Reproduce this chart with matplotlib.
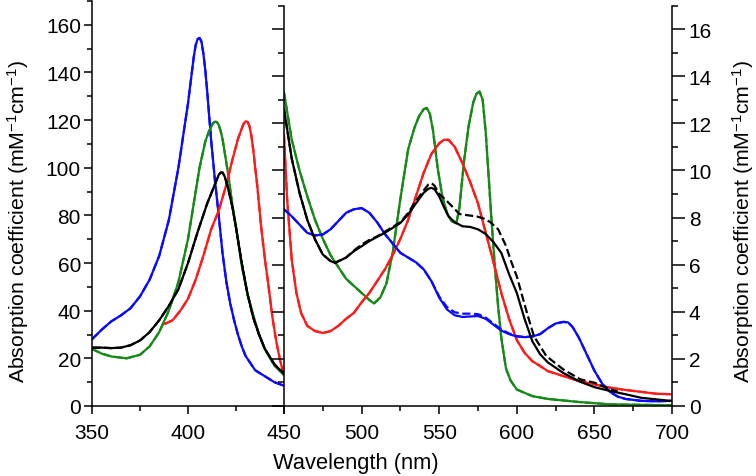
import numpy as np
import matplotlib
matplotlib.use("Agg")
import matplotlib.pyplot as plt
from matplotlib.ticker import MultipleLocator

plt.rcParams['font.family'] = ['Liberation Sans', 'DejaVu Sans']
plt.rcParams['mathtext.default'] = 'regular'

# ---- left panel (Soret region, mM-1 cm-1, left axis) ----
wl_blue_l = [350, 355, 360, 365, 370, 375, 380, 385, 390, 395, 400, 402, 403, 404, 405,
             406, 407, 408, 409, 410, 411, 412, 414, 416, 418, 420, 422, 424, 426, 428,
             430, 435, 440, 445, 450]
blue_l = [28, 32, 35.5, 38, 41, 46, 53, 63, 78, 100, 127, 140, 146.5, 151.5, 154,
          154.5, 153, 148, 141, 132, 122, 112, 95, 80, 64, 52, 43, 36, 30, 25,
          21, 15, 12.5, 10, 8.5]

wl_green_l = [350, 355, 360, 368, 375, 380, 385, 390, 395, 400, 403, 406, 409, 411, 412,
              413, 414, 415, 416, 417, 418, 419, 420, 421, 422, 423, 425, 428, 431, 434,
              437, 440, 445, 450]
green_l = [24, 22, 20.8, 20, 21.5, 25, 31, 40, 52, 70, 85, 100, 111, 115.5, 117,
           118.7, 119.3, 119.2, 118, 115.5, 112, 107, 102, 97, 91, 85, 75, 59, 47, 38,
           30, 24, 17, 13]

wl_black_l = [350, 355, 360, 365, 370, 375, 380, 385, 390, 395, 400, 405, 410, 413, 415,
              416, 417, 418, 419, 420, 421, 423, 425, 428, 431, 434, 437, 440, 445, 450]
black_l = [24.5, 24.5, 24.3, 24.5, 25.5, 27.5, 31, 36, 42, 49, 60, 73, 85, 91, 95,
           97, 98, 98, 96.5, 94, 91, 84, 75, 60, 47, 37, 30, 24, 17.5, 13.5]

wl_red_l = [388, 392, 396, 400, 404, 408, 412, 416, 420, 423, 426, 428, 429, 430, 431,
            432, 433, 434, 435, 436, 438, 440, 442, 444, 446, 448, 450]
red_l = [34.5, 36, 40, 45, 53, 63, 74, 82, 93, 103, 112, 116.5, 118.5, 119.5, 119.3,
         117.5, 113.5, 107.5, 100, 93, 76, 62, 50, 37, 27, 19, 13]

# ---- right panel (Q-band region, right axis) ----
wl_green_r = [450, 455, 460, 465, 470, 475, 480, 490, 500, 505, 508, 512, 516, 520, 525,
              530, 534, 537, 540, 542, 544, 546, 549, 552, 555, 558, 561, 563, 566, 569,
              572, 574, 576, 578, 580, 582, 584, 586, 588, 590, 593, 596, 600, 610, 620,
              640, 660, 700]
green_r = [13.3, 11.3, 10, 8.9, 7.9, 7.1, 6.4, 5.4, 4.8, 4.5, 4.35, 4.6, 5.2, 6.5, 8.8,
           10.9, 11.8, 12.3, 12.6, 12.65, 12.4, 11.7, 10.1, 8.9, 8.2, 7.85, 7.75, 8.4, 10.4, 11.9,
           12.9, 13.25, 13.35, 13.0, 11.6, 9.6, 7.6, 5.8, 4.2, 2.9, 1.6, 1.08, 0.7, 0.42, 0.3,
           0.17, 0.07, 0.03]

wl_red_r = [450, 452, 455, 458, 461, 465, 470, 475, 480, 485, 490, 495, 500, 505, 510,
            515, 520, 525, 530, 535, 540, 545, 550, 553, 556, 560, 565, 570, 575, 580,
            585, 590, 595, 600, 605, 610, 615, 620, 630, 640, 650, 660, 670, 680, 690, 700]
red_r = [11.5, 8.8, 6.2, 4.8, 3.95, 3.4, 3.18, 3.1, 3.18, 3.4, 3.7, 3.95, 4.4, 4.8, 5.3,
         5.8, 6.4, 7.1, 7.9, 8.9, 9.9, 10.7, 11.15, 11.3, 11.3, 11.0, 10.3, 9.5, 8.6, 7.35,
         6.1, 4.8, 3.7, 2.8, 2.26, 1.9, 1.7, 1.48, 1.27, 1.06, 0.92, 0.78, 0.68, 0.6, 0.52, 0.5]

wl_blue_r = [450, 455, 460, 465, 470, 475, 480, 485, 490, 495, 500, 505, 510, 515, 520,
             525, 530, 535, 540, 545, 550, 555, 560, 565, 570, 575, 580, 585, 590, 595,
             600, 605, 610, 615, 620, 625, 630, 633, 636, 640, 645, 650, 655, 660, 665,
             670, 680, 690, 700]
blue_r = [8.35, 8.05, 7.7, 7.35, 7.24, 7.28, 7.5, 7.85, 8.2, 8.35, 8.4, 8.2, 7.8, 7.3, 6.9,
          6.5, 6.3, 6.1, 5.8, 5.3, 4.6, 4.1, 3.85, 3.78, 3.8, 3.82, 3.7, 3.45, 3.2, 3.05,
          2.95, 2.92, 2.95, 3.05, 3.3, 3.5, 3.57, 3.55, 3.35, 2.9, 2.2, 1.5, 0.95, 0.6, 0.4,
          0.3, 0.22, 0.2, 0.22]
# dashed blue sits a little higher on the 555-600 shoulder
blue_r_dash = [8.35, 8.05, 7.7, 7.35, 7.24, 7.28, 7.5, 7.85, 8.2, 8.35, 8.4, 8.2, 7.8, 7.3, 6.9,
               6.5, 6.3, 6.1, 5.8, 5.3, 4.65, 4.2, 3.98, 3.92, 3.92, 3.9, 3.75, 3.5, 3.25, 3.08,
               2.97, 2.93, 2.95, 3.05, 3.3, 3.5, 3.57, 3.55, 3.35, 2.9, 2.2, 1.5, 0.95, 0.6, 0.4,
               0.3, 0.22, 0.2, 0.22]

wl_black_r = [450, 455, 460, 465, 470, 475, 480, 483, 490, 495, 500, 505, 510, 515, 520,
              525, 530, 535, 540, 543, 545, 547, 550, 553, 556, 560, 565, 570, 575, 580,
              585, 590, 595, 600, 605, 610, 615, 620, 630, 640, 650, 660, 670, 680, 690, 700]
black_r = [12.6, 10.5, 9.05, 7.9, 7.07, 6.43, 6.15, 6.08, 6.3, 6.57, 6.78, 7.0, 7.18, 7.35, 7.56,
           7.77, 8.13, 8.6, 9.05, 9.22, 9.26, 9.2, 8.9, 8.45, 8.05, 7.8, 7.63, 7.6, 7.5, 7.3,
           6.95, 6.5, 5.6, 4.8, 3.7, 2.75, 2.2, 1.85, 1.4, 1.05, 0.8, 0.64, 0.5, 0.35, 0.28, 0.21]

wl_black_r_dash = [450, 455, 460, 465, 470, 475, 480, 483, 490, 495, 500, 505, 510, 515, 520,
                   525, 530, 535, 540, 543, 545, 547, 550, 555, 563, 568, 574, 579, 583, 588,
                   593, 596, 600, 604, 607, 611, 619, 630, 641, 650, 660, 665]
black_r_dash = [12.6, 10.5, 9.05, 7.9, 7.07, 6.43, 6.15, 6.08, 6.3, 6.6, 6.85, 7.05, 7.2, 7.4, 7.6,
                7.8, 8.2, 8.7, 9.15, 9.4, 9.46, 9.35, 9.0, 8.7, 8.15, 8.1, 8.05, 7.95, 7.8, 7.5,
                6.8, 6.2, 5.5, 4.55, 3.85, 2.97, 2.12, 1.55, 1.13, 0.99, 0.71, 0.62]

colors = {'blue': '#0a0aff', 'green': '#168a16', 'red': '#ff1a1a', 'black': '#000000'}
lw = 1.6

W, H = 756, 477
fig = plt.figure(figsize=(W / 100, H / 100), dpi=100)
ax1 = fig.add_axes([92 / W, 1 - 407 / H, 192 / W, 405 / H])
ax2 = fig.add_axes([284 / W, 1 - 407 / H, 388 / W, 400.5 / H])

# left panel: solid + dashed (dashed practically on top of solid)
for wl, v, c in [(wl_blue_l, blue_l, 'blue'), (wl_green_l, green_l, 'green'),
                 (wl_red_l, red_l, 'red'), (wl_black_l, black_l, 'black')]:
    ax1.plot(wl, v, color=colors[c], lw=lw, solid_joinstyle='round')
    ax1.plot(wl, v, color=colors[c], lw=lw, ls='--')

for wl, v, c in [(wl_green_r, green_r, 'green'), (wl_red_r, red_r, 'red')]:
    ax2.plot(wl, v, color=colors[c], lw=lw, solid_joinstyle='round')
    ax2.plot(wl, v, color=colors[c], lw=lw, ls='--')
ax2.plot(wl_blue_r, blue_r, color=colors['blue'], lw=lw, solid_joinstyle='round')
ax2.plot(wl_blue_r, blue_r_dash, color=colors['blue'], lw=lw, ls='--')
ax2.plot(wl_black_r, black_r, color='black', lw=lw, solid_joinstyle='round')
ax2.plot(wl_black_r_dash, black_r_dash, color='black', lw=lw, ls='--')

ax1.set_xlim(350, 450)
ax1.set_ylim(0, 170)
ax2.set_xlim(450, 700)
ax2.set_ylim(0, 17)

for a in (ax1, ax2):
    a.patch.set_alpha(0)
    a.spines['top'].set_visible(False)
    for s in a.spines.values():
        s.set_linewidth(1.1)
ax1.spines['right'].set_visible(False)

ax1.xaxis.set_major_locator(MultipleLocator(50))
ax1.xaxis.set_minor_locator(MultipleLocator(25))
ax1.yaxis.set_major_locator(MultipleLocator(20))
ax1.yaxis.set_minor_locator(MultipleLocator(10))
ax1.tick_params(axis='both', which='major', direction='out', length=6, width=1.1,
                labelsize=15)
ax1.tick_params(axis='both', which='minor', direction='out', length=3.5, width=1.1)
ax1.tick_params(axis='x', which='major', pad=6)
ax1.tick_params(axis='y', which='major', pad=2)

ax2.set_xticks([450, 500, 550, 600, 650, 700])
ax2.set_xticklabels(['', '500', '550', '600', '650', '700'])
ax2.xaxis.set_minor_locator(MultipleLocator(25))
ax2.yaxis.set_major_locator(MultipleLocator(2))
ax2.yaxis.set_minor_locator(MultipleLocator(1))
ax2.tick_params(axis='x', which='major', direction='out', length=6, width=1.1,
                labelsize=15, pad=6)
ax2.tick_params(axis='x', which='minor', direction='out', length=3.5, width=1.1)
ax2.tick_params(axis='y', which='major', direction='out', length=9, width=1.1,
                left=True, right=True, labelleft=False, labelright=True,
                labelsize=15, pad=3)
ax2.tick_params(axis='y', which='minor', direction='out', length=4.5, width=1.1,
                left=True, right=True)

# axis titles placed in figure pixels, sized to the reference text length
ylab = 'Absorption coefficient (mM$^{-1}$cm$^{-1}$)'
t_left = fig.text(18 / W, 1 - 221 / H, ylab, rotation=90, fontsize=15.5,
                  ha='center', va='center')
t_right = fig.text(743 / W, 1 - 221 / H, ylab, rotation=90, fontsize=15.5,
                   ha='center', va='center')
t_x = fig.text(356 / W, 1 - 464 / H, 'Wavelength (nm)', fontsize=15.5,
               ha='center', va='center')

renderer = fig.canvas.get_renderer()
h = t_left.get_window_extent(renderer).height
for t in (t_left, t_right):
    t.set_fontsize(15.5 * 322 / h)
w = t_x.get_window_extent(renderer).width
t_x.set_fontsize(15.5 * 165 / w)

fig.savefig('out.png', dpi=100)
